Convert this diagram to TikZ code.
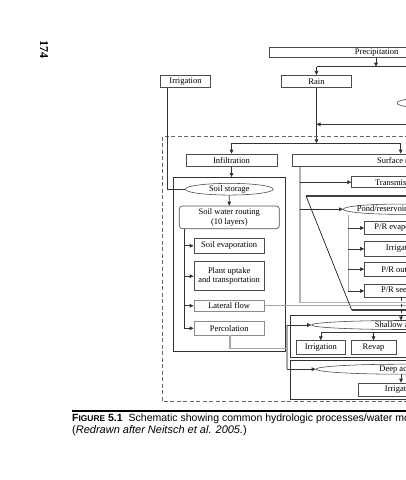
\documentclass[tikz,border=0pt]{standalone}
\usepackage{fontspec}
\setmainfont{Liberation Serif}
\newfontfamily\capfont{Liberation Sans}
\usetikzlibrary{arrows.meta,shapes.geometric}
\begin{document}
\begin{tikzpicture}[x=1pt,y=-1pt,
  box/.style={draw=black!70,line width=0.65pt,rectangle,inner sep=0pt,align=center,font=\fontsize{8.5}{9.5}\selectfont},
  ell/.style={draw=black!75,line width=0.55pt,ellipse,inner sep=0pt},
  lbl/.style={inner sep=0pt,font=\fontsize{8.5}{9.5}\selectfont},
  conn/.style={draw=black!80,line width=0.7pt},
  arr/.style={conn,-{Triangle[length=4pt,width=3.6pt]}},
  gline/.style={draw=black!30,line width=1.6pt},
  gthin/.style={draw=black!35,line width=1.1pt},
  framebox/.style={draw=black!80,line width=1.2pt,rectangle,inner sep=0pt},
]
\useasboundingbox (0,0) rectangle (406,480);
\clip (0,0) rectangle (406,480);

% page number
\node[font=\fontsize{12}{12}\selectfont\bfseries,rotate=-90,inner sep=0pt] (pg) at (44,49) {174};

% top row
\node[box,minimum width=215.4pt,minimum height=10.3pt] (prec) at (376.7,52.2) {Precipitation};
\node[box,minimum width=69.6pt,minimum height=12pt] (rain) at (316.5,81.3) {Rain};
\node[box,minimum width=50.4pt,minimum height=12pt] (irrt) at (185.5,81.3) {Irrigation};
\node[ell,minimum width=60pt,minimum height=10pt] (snow) at (427,103) {};

\coordinate (xp) at (376,0);
\coordinate (c1) at (316.5,66.7);
\coordinate (c1r) at (430,66.7);
\draw[arr] (prec.south -| xp) -- (xp |- c1);
\draw[conn] (c1r) -- (c1);
\draw[arr] (c1) -- (rain.north);
\coordinate (melt) at (430,124.3);
\coordinate (jr) at (316.5,143.3);
\draw[arr] (melt) -- (rain.south |- melt);
\draw[arr] (rain.south) -- (jr);

% dashed HRU frame
\draw[black!60,line width=0.6pt,dash pattern=on 4pt off 2.5pt] (162.5,136.5) rectangle (440,401.7);

% infiltration / surface runoff
\node[box,minimum width=90.7pt,minimum height=12.7pt] (infil) at (231.5,160.35) {Infiltration};
\node[box,minimum width=218.7pt,minimum height=12.7pt] (surf) at (401.7,160.35) {Surface runoff};
\coordinate (ji) at (231.5,143.3);
\coordinate (js) at (400.7,143.3);
\draw[conn] (ji) -- (js);
\draw[arr] (ji) -- (infil.north);
\draw[arr] (js) -- (js |- surf.north);

% soil column
\node[framebox,minimum width=112pt,minimum height=173.8pt] (soilbox) at (229.5,264.6) {};
\draw[arr] (infil.south) -- (infil.south |- soilbox.north);
\node[ell,minimum width=88pt,minimum height=11.7pt] (soilst) at (229.2,189.2) {};
\node[lbl] at (soilst) {Soil storage};
\coordinate (il) at (167.3,0);
\draw[conn] (irrt.south -| il) |- (soilst.west);
\node[box,rounded corners=3pt,minimum width=100pt,minimum height=22.7pt] (route) at (229.3,217.35) {Soil water routing\\(10 layers)};
\draw[arr] (soilst.south) -- (route.north);

\node[box,minimum width=70.3pt,minimum height=15pt] (sevap) at (229.15,245.8) {Soil evaporation};
\node[box,minimum width=70.3pt,minimum height=29pt] (plant) at (229.15,276.2) {Plant uptake\\and transportation};
\node[box,draw=black!45,minimum width=70.3pt,minimum height=11.7pt] (lat) at (229.15,305.8) {Lateral flow};
\node[box,draw=black!45,minimum width=70.3pt,minimum height=13.3pt] (perc) at (229.15,328.3) {Percolation};
\coordinate (vl) at (184.3,0);
\draw[conn] (route.south -| vl) -- (vl |- perc.west);
\foreach \n in {sevap,plant,lat,perc} \draw[arr] (vl |- \n.west) -- (\n.west);

% surface runoff branch
\coordinate (gs) at (300,0);
\coordinate (gb) at (300,302.5);
\coordinate (gbr) at (430,302.5);
\draw[gline] (surf.south -| gs) -- (gb) -- (gbr);
\node[box,minimum width=114.6pt,minimum height=11pt] (trans) at (409,182.2) {Transmission losses};
\draw[arr] (gs |- trans.west) -- (trans.west);

% pond / reservoir
\draw[black!75,line width=1.6pt] (430,196) -- (306,196);
\draw[black,line width=0.6pt] (306,196) -- (351.7,310);
\draw[black!75,line width=1.2pt] (351.7,310) -- (430,310);
\node[ell,minimum width=113.4pt,minimum height=10.3pt] (pond) at (400,209.2) {};
\node[lbl,anchor=west] at (356.7,209.2) {Pond/reservoir storage};
\draw[arr] (gs |- pond.west) -- (pond.west);

\node[box,minimum width=75pt,minimum height=12.6pt] (prevap) at (402,228) {P/R evaporation};
\node[box,minimum width=75pt,minimum height=14.3pt] (prirr) at (402,248.85) {Irrigation};
\node[box,minimum width=75pt,minimum height=13.7pt] (prout) at (402,269.15) {P/R outflow};
\node[box,minimum width=75pt,minimum height=13.4pt] (prseep) at (402,291) {P/R seepage};
\coordinate (pv) at (348.3,0);
\draw[gthin] (pv |- pond.south) -- (pv |- prseep.west);
\foreach \n in {prevap,prirr,prout,prseep} \draw[arr] (pv |- \n.west) -- (\n.west);

% lateral flow line
\coordinate (latr) at (430,305.8);
\draw[gthin] (lat.east) -- (latr);

% shallow aquifer
\node[framebox,line width=1pt,minimum width=140pt,minimum height=42.5pt] (shbox) at (360.7,336.25) {};
\node[ell,minimum width=181pt,minimum height=9pt] (shal) at (402,325) {};
\node[lbl] at (shal) {Shallow aquifer};
\coordinate (sdt) at (401,297.7);
\draw[arr,dashed] (sdt) -- (401,320.5);
\node[box,minimum width=49.7pt,minimum height=13.6pt] (shirr) at (320.85,347.5) {Irrigation};
\node[box,minimum width=45pt,minimum height=13.6pt] (revap) at (373.5,347.5) {Revap};
\coordinate (sh1) at (320.85,332.7);
\coordinate (sh2) at (430,332.7);
\draw[conn] (sh1) -- (sh2);
\draw[arr] (sh1) -- (shirr.north);
\draw[arr] (revap.north |- sh1) -- (revap.north);

% deep aquifer
\node[framebox,line width=1pt,minimum width=140pt,minimum height=39.3pt] (dpbox) at (360.7,379.65) {};
\node[ell,minimum width=171pt,minimum height=10pt] (deep) at (401.5,369.2) {};
\node[lbl] at (deep) {Deep aquifer};
\node[box,minimum width=86pt,minimum height=13pt] (dpirr) at (401,389.5) {Irrigation};
\draw[arr] (deep.south -| dpirr.north) -- (dpirr.north);

% percolation path
\coordinate (p1) at (230,348.3);
\coordinate (p2) at (287,348.3);
\coordinate (p3) at (287,325);
\coordinate (p4) at (287,369.2);
\draw[gthin] (perc.south -| p1) -- (p1) -- (p2);
\draw[gthin] (p3) -- (p4);
\draw[arr] (p3) -- (shal.west);
\draw[arr] (p4) -- (deep.west);

% caption
\draw[black,line width=2.4pt] (72,411) -- (430,411);
\node[anchor=west,inner sep=0pt,font=\capfont\fontsize{10.5}{12}\selectfont] (cap1) at (72,419)
  {\textbf{F\fontsize{8.4}{10}\selectfont IGURE\fontsize{10.5}{12}\selectfont\ 5.1}\hspace{6pt}Schematic showing common hydrologic processes/water movement};
\node[anchor=west,inner sep=0pt,font=\capfont\fontsize{11}{12}\selectfont] (cap2) at (72,431)
  {(\textit{Redrawn after Neitsch et al. 2005.})};
\end{tikzpicture}
\end{document}
